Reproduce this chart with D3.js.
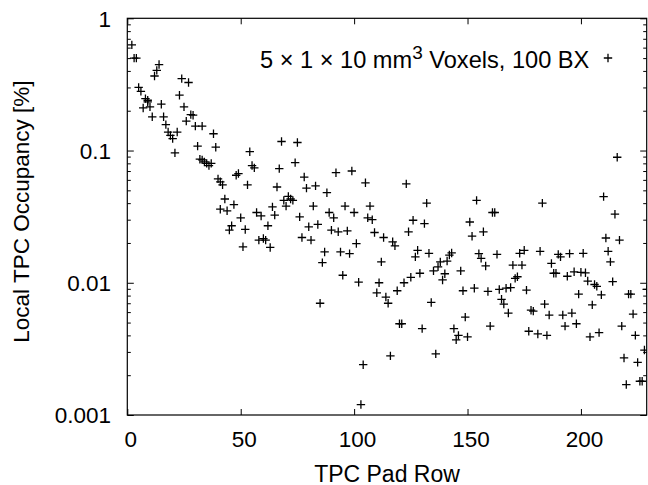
<html>
<head>
<script src="https://d3js.org/d3.v7.min.js"></script>
<style>
  body { margin: 0; background: white; overflow: hidden; }
  svg { display: block; }
  text { font-family: "Liberation Sans", Arial, Helvetica, sans-serif; fill: black; }
</style>
</head>
<body>
<svg width="648" height="485"></svg>
<script>
// pad row and local occupancy (%)
var rows = [2,3,4,5,6,7,8,9,9,10,11,12,13,14,15,16,17,18,19,20,21,22,23,24,25,26,27,28,29,30,
  31,32,33,33,34,35,36,37,38,39,40,41,41,42,43,44,45,46,47,48,49,50,51,52,53,54,55,56,57,58,
  59,60,61,62,63,64,65,66,67,68,69,70,71,72,73,74,75,76,77,78,79,80,81,82,83,84,85,86,87,88,
  89,90,91,92,93,94,95,96,97,98,99,100,101,102,103,104,105,106,107,108,109,110,111,112,113,114,115,116,117,118,
  119,120,121,122,123,124,125,126,127,128,129,130,131,132,133,134,135,136,137,138,139,140,141,142,143,144,145,146,147,148,
  149,150,151,152,153,154,155,156,157,158,159,160,161,162,163,164,165,166,167,168,169,170,171,172,173,174,175,176,177,178,
  179,181,182,183,184,185,186,187,188,189,190,191,192,193,194,195,196,197,198,199,200,201,202,203,204,205,206,207,208,209,
  210,211,212,213,214,215,216,217,218,219,220,221,222,223,224,225,226,227,228,229]
var occupancy = [0.63,0.50,0.50,0.30,0.28,0.21,0.247,0.24,0.233,0.214,0.18,0.366,0.404,0.447,0.224,0.18,0.157,0.138,0.13,0.123,0.096,0.138,0.262,0.35,0.214,0.167,0.327,0.187,0.185,0.153,
  0.108,0.086,0.153,0.085,0.082,0.080,0.077,0.080,0.134,0.106,0.061,0.058,0.036,0.055,0.043,0.035,0.025,0.027,0.039,0.065,0.067,0.031,0.0187,0.0253,0.055,0.098,0.077,0.074,0.034,0.021,
  0.032,0.0216,0.021,0.027,0.0185,0.0375,0.0325,0.053,0.073,0.117,0.042,0.038,0.045,0.043,0.042,0.081,0.115,0.0315,0.022,0.063,0.052,0.0265,0.021,0.038,0.054,0.0276,0.007,0.0142,0.0171,0.048,
  0.034,0.025,0.031,0.068,0.0243,0.0171,0.0114,0.038,0.0247,0.0166,0.070,0.034,0.0198,0.0101,0.0012,0.0024,0.057,0.031,0.038,0.030,0.024,0.0084,0.010,0.0144,0.022,0.0078,0.007,0.0028,0.0204,0.019,
  0.0087,0.0049,0.0049,0.010,0.056,0.0243,0.011,0.0297,0.0157,0.0176,0.0118,0.0045,0.028,0.040,0.0167,0.0071,0.0123,0.0029,0.0132,0.0144,0.0105,0.0117,0.0146,0.0162,0.0168,0.0045,0.0037,0.004,0.0123,0.0087,
  0.0055,0.0039,0.0288,0.0225,0.0091,0.042,0.0166,0.0153,0.0243,0.0134,0.0086,0.0047,0.034,0.034,0.0164,0.0089,0.0075,0.0069,0.0091,0.0059,0.0092,0.0136,0.0108,0.0111,0.0167,0.0136,0.0176,0.0088,0.0043,0.0062,
  0.0061,0.0041,0.0173,0.040,0.0069,0.004,0.0057,0.014,0.0118,0.0118,0.0164,0.0157,0.0057,0.0047,0.0112,0.0166,0.0059,0.0121,0.0049,0.0082,0.012,0.0167,0.0119,0.0103,0.0039,0.0068,0.0097,0.0094,0.0042,0.0081,
  0.0448,0.0218,0.0173,0.0144,0.0102,0.033,0.089,0.021,0.0047,0.0027,0.0017,0.0082,0.0082,0.0058,0.004,0.0025,0.0018,0.0018,0.0031,0.0089]
var xTicks = [0, 50, 100, 150, 200]
var yTicks = [0.001, 0.01, 0.1, 1]
var yTickLabels = ["0.001", "0.01", "0.1", "1"]
var legendLabel = "5 \u00d7 1 \u00d7 10 mm"

var pLeft = 127.3, pRight = 646.7, pTop = 18.3, pBottom = 415
var x = d3.scaleLinear().domain([0, 229]).range([pLeft, pRight])
var y = d3.scaleLog().domain([0.001, 1]).range([pBottom, pTop])

var minors = []
yTicks.slice(0, 3).forEach(function(d) {
  for (var k = 2; k <= 9; k++) minors.push(d * k)
})

var svg = d3.select("svg")

function styleAxis(g) {
  g.select(".domain").remove()
  g.selectAll("line").attr("stroke", "black").attr("stroke-width", 1)
  g.attr("font-family", null).attr("font-size", null)
}

// bottom and top x ticks
svg.append("g").attr("transform", "translate(0," + pBottom + ")")
  .call(d3.axisBottom(x).tickValues(xTicks).tickSize(-6).tickPadding(16.5).tickFormat(d3.format("d")))
  .call(styleAxis)
  .selectAll("text").attr("font-size", 22.5).attr("dx", 3)
svg.append("g").attr("transform", "translate(0," + pTop + ")")
  .call(d3.axisTop(x).tickValues(xTicks).tickSize(-6).tickFormat(""))
  .call(styleAxis)

// left and right y ticks
svg.append("g").attr("transform", "translate(" + pLeft + ",0)")
  .call(d3.axisLeft(y).tickValues(yTicks).tickSize(-6.5).tickPadding(16.3)
    .tickFormat(function(d, i) { return yTickLabels[i] }))
  .call(styleAxis)
  .selectAll("text").attr("font-size", 22.5).attr("dy", "0.35em")
svg.append("g").attr("transform", "translate(" + pLeft + ",0)")
  .call(d3.axisLeft(y).tickValues(minors).tickSize(-3.5).tickFormat(""))
  .call(styleAxis)
svg.append("g").attr("transform", "translate(" + pRight + ",0)")
  .call(d3.axisRight(y).tickValues(yTicks).tickSize(-6.5).tickFormat(""))
  .call(styleAxis)
svg.append("g").attr("transform", "translate(" + pRight + ",0)")
  .call(d3.axisRight(y).tickValues(minors).tickSize(-3.5).tickFormat(""))
  .call(styleAxis)

// frame
svg.append("rect")
  .attr("x", pLeft).attr("y", pTop)
  .attr("width", pRight - pLeft).attr("height", pBottom - pTop)
  .attr("fill", "none").attr("stroke", "black").attr("stroke-width", 1.2)

svg.append("clipPath").attr("id", "plotclip")
  .append("rect").attr("x", pLeft).attr("y", pTop)
  .attr("width", pRight - pLeft).attr("height", pBottom - pTop)

var pts = rows.map(function(r, i) { return [r, occupancy[i]] })
var plus = "M-4.2,0H4.2M0,-4.2V4.2"

svg.append("g").attr("clip-path", "url(#plotclip)")
  .selectAll("path").data(pts).enter().append("path")
  .attr("d", plus)
  .attr("transform", function(d) { return "translate(" + x(d[0]) + "," + y(d[1]) + ")" })
  .attr("stroke", "black").attr("stroke-width", 1.3).attr("fill", "none")

// key
var key = svg.append("text").attr("x", 260).attr("y", 67.5).attr("font-size", 23.6)
key.append("tspan").text(legendLabel)
key.append("tspan").attr("dy", -9).attr("font-size", 19).text("3")
key.append("tspan").attr("dy", 9).text(" Voxels, 100 BX")
svg.append("path").attr("d", plus)
  .attr("transform", "translate(608,58)")
  .attr("stroke", "black").attr("stroke-width", 1.3)

// axis titles
svg.append("text").attr("x", (pLeft + pRight) / 2).attr("y", 481.5)
  .attr("text-anchor", "middle").attr("font-size", 23).text("TPC Pad Row")
svg.append("text").attr("transform", "translate(28.5," + ((pTop + pBottom) / 2 - 5) + ") rotate(-90)")
  .attr("text-anchor", "middle").attr("font-size", 22.5).text("Local TPC Occupancy [%]")
</script>
</body>
</html>
